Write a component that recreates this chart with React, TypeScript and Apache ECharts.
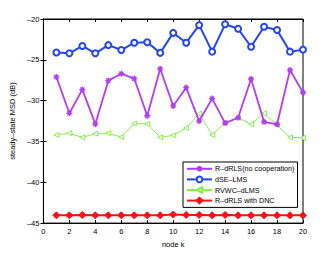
import React, { useEffect, useRef } from "react";
import * as echarts from "echarts";

const nodes = [1, 2, 3, 4, 5, 6, 7, 8, 9, 10, 11, 12, 13, 14, 15, 16, 17, 18, 19, 20];
const rdrlsNoCoop = [-27.1, -31.55, -28.65, -32.85, -27.55, -26.7, -27.3, -31.85, -26.1, -30.65, -28.4, -32.5, -29.75, -32.75, -32.1, -27.35, -32.6, -32.9, -26.25, -29.0];
const dseLms = [-24.1, -24.2, -23.3, -24.2, -23.2, -23.8, -22.9, -22.85, -24.15, -21.7, -22.9, -20.75, -24.0, -20.65, -21.2, -23.4, -20.95, -21.35, -24.0, -23.75];
const rvwcDlms = [-34.2, -34.0, -34.5, -34.05, -34.0, -34.45, -32.8, -32.85, -34.5, -34.25, -33.35, -31.6, -34.2, -32.7, -32.1, -32.9, -31.55, -33.0, -34.5, -34.55];
const rdrlsDnc = [-44.05, -44.05, -44.0, -44.05, -44.05, -44.05, -44.05, -44.05, -44.05, -43.95, -44.0, -44.0, -44.05, -44.0, -44.05, -44.05, -44.05, -44.05, -44.05, -44.05];
const seriesNames = ["R\u2013dRLS(no cooperation)", "dSE\u2013LMS", "RVWC\u2013dLMS", "R\u2013dRLS with DNC"];

const FONT = "Liberation Sans";
const star = "path://M0,-10L0,10M-10,0L10,0M-7,-7L7,7M-7,7L7,-7";
const fmt = (v: number) => String(v).replace("-", "\u2013");

export default function App() {
  const ref = useRef<HTMLDivElement>(null);
  useEffect(() => {
    if (!ref.current) return;
    const chart = echarts.init(ref.current, undefined, { renderer: "svg" });
    const pair = (arr: number[]) => nodes.map((n, i) => [n, arr[i]]);
    chart.setOption({
      animation: false,
      backgroundColor: "#ffffff",
      textStyle: { fontFamily: FONT },
      grid: { left: 43, right: 31, top: 19, bottom: 29, show: true, borderColor: "#000", borderWidth: 1, backgroundColor: "transparent" },
      xAxis: [
        {
          type: "value", min: 0, max: 20, interval: 2,
          name: "node k", nameLocation: "middle", nameGap: 11,
          nameTextStyle: { fontSize: 7.5, fontFamily: FONT, color: "#000" },
          axisLine: { lineStyle: { color: "#000", width: 1 } },
          axisTick: { inside: true, length: 3, lineStyle: { color: "#000" } },
          axisLabel: { fontSize: 7.5, color: "#000", margin: 4, fontFamily: FONT },
          splitLine: { show: false },
        },
        {
          type: "value", min: 0, max: 20, interval: 2, position: "top",
          axisLine: { lineStyle: { color: "#000" } },
          axisTick: { inside: true, length: 3, lineStyle: { color: "#000" } },
          axisLabel: { show: false }, splitLine: { show: false },
        },
      ],
      yAxis: [
        {
          type: "value", min: -45, max: -20, interval: 5,
          name: "steady\u2013state MSD (dB)", nameLocation: "middle", nameGap: 15, nameRotate: 90,
          nameTextStyle: { fontSize: 7.5, fontFamily: FONT, color: "#000" },
          axisLine: { lineStyle: { color: "#000" } },
          axisTick: { inside: true, length: 3, lineStyle: { color: "#000" } },
          axisLabel: { fontSize: 7.5, color: "#000", margin: 4, fontFamily: FONT, formatter: fmt },
          splitLine: { show: false },
        },
        {
          type: "value", min: -45, max: -20, interval: 5, position: "right",
          axisLine: { lineStyle: { color: "#000" } },
          axisTick: { inside: true, length: 3, lineStyle: { color: "#000" } },
          axisLabel: { show: false }, splitLine: { show: false },
        },
      ],
      legend: {
        left: 183, top: 162, orient: "vertical",
        itemWidth: 25, itemHeight: 7, itemGap: 3,
        padding: [3, 3, 3, 3],
        backgroundColor: "#fff", borderColor: "#000", borderWidth: 1, borderRadius: 0,
        textStyle: { fontSize: 7.2, color: "#000", fontFamily: FONT, padding: [0, 0, 0, -2] },
        data: seriesNames,
      },
      series: [
        {
          name: seriesNames[0], type: "line", data: pair(rdrlsNoCoop),
          symbol: star, symbolSize: 6, showSymbol: true,
          lineStyle: { color: "#b43cf5", width: 1.8 },
          itemStyle: { color: "#b43cf5", borderColor: "#b43cf5", borderWidth: 1.3 },
          z: 3,
        },
        {
          name: seriesNames[1], type: "line", data: pair(dseLms),
          symbol: "emptyCircle", symbolSize: 6,
          lineStyle: { color: "#2346f0", width: 2 },
          itemStyle: { color: "#2346f0", borderColor: "#2346f0", borderWidth: 1.6 },
          z: 4,
        },
        {
          name: seriesNames[2], type: "line", data: pair(rvwcDlms),
          symbol: "triangle", symbolRotate: 90, symbolSize: 5,
          lineStyle: { color: "#86f04a", width: 1 },
          itemStyle: { color: "#ffffff", borderColor: "#86f04a", borderWidth: 1 },
          z: 2,
        },
        {
          name: seriesNames[3], type: "line", data: pair(rdrlsDnc),
          symbol: "diamond", symbolSize: 7,
          lineStyle: { color: "#ff1010", width: 2 },
          itemStyle: { color: "#ff1010", borderColor: "#ff1010", borderWidth: 1 },
          z: 3,
        },
      ],
    });
    return () => chart.dispose();
  }, []);
  return <div ref={ref} style={{ width: 334, height: 253, position: "absolute", left: 0, top: 0 }} />;
}
